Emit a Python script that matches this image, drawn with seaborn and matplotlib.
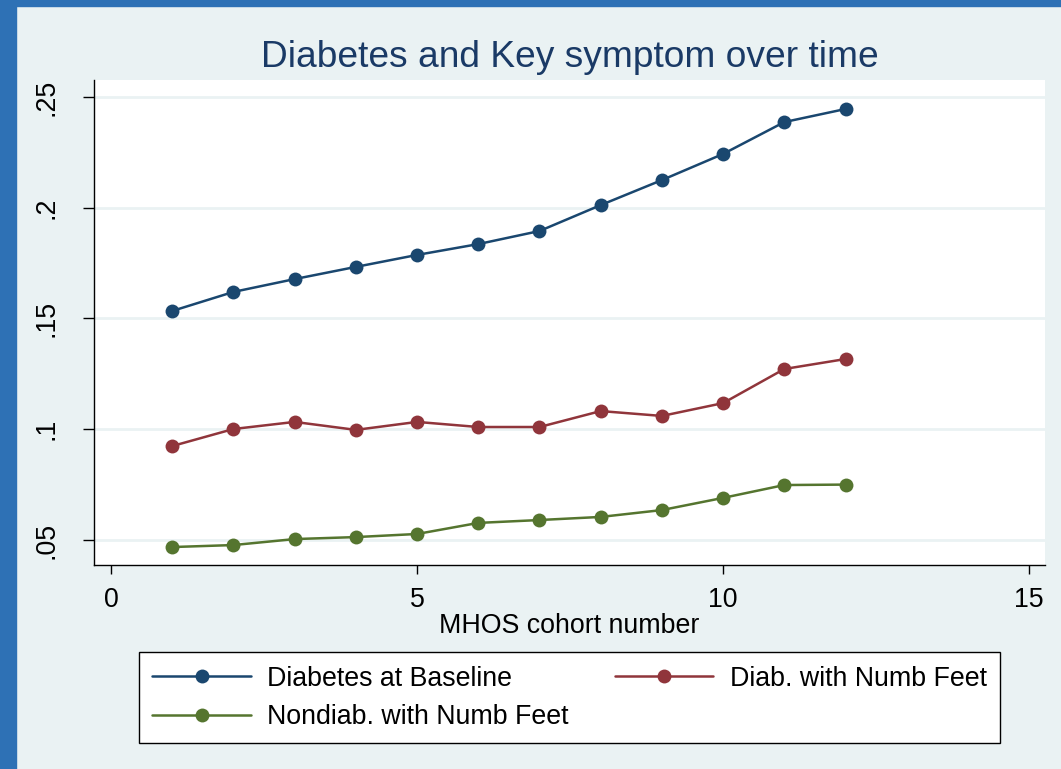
import numpy as np
import pandas as pd
import matplotlib
matplotlib.use("Agg")
import matplotlib.pyplot as plt
import seaborn as sns

# valeurs
cohort = [1, 2, 3, 4, 5, 6, 7, 8, 9, 10, 11, 12]
diab_baseline = [0.1534, 0.1620, 0.1678, 0.1733, 0.1787, 0.1836, 0.1895,
                 0.2012, 0.2125, 0.2243, 0.2387, 0.2446]
diab_numb = [0.0924, 0.1001, 0.1033, 0.0997, 0.1033, 0.1010, 0.1010,
             0.1082, 0.1060, 0.1118, 0.1272, 0.1317]
nondiab_numb = [0.0468, 0.0477, 0.0504, 0.0513, 0.0527, 0.0577, 0.0590,
                0.0604, 0.0635, 0.0690, 0.0748, 0.0750]
series_names = ["Diabetes at Baseline", "Diab. with Numb Feet", "Nondiab. with Numb Feet"]
colors = ["#1a476f", "#90353b", "#55752f"]
yticks = [0.05, 0.10, 0.15, 0.20, 0.25]
ytick_labels = [".05", ".1", ".15", ".2", ".25"]
xticks = [0, 5, 10, 15]

df = pd.DataFrame({
    "cohort": cohort * 3,
    "value": diab_baseline + diab_numb + nondiab_numb,
    "series": np.repeat(series_names, len(cohort)),
})

sns.set_style("white")
plt.rcParams["font.family"] = ["Liberation Sans", "DejaVu Sans"]
plt.rcParams["text.color"] = "black"
plt.rcParams["axes.labelcolor"] = "black"
plt.rcParams["xtick.color"] = "black"
plt.rcParams["ytick.color"] = "black"

bg = "#eaf2f3"
fs = 19.3
fig = plt.figure(figsize=(10.61, 7.69), dpi=100, facecolor=bg)
ax = fig.add_axes([0.0886, 0.2653, 0.8964, 0.6307])
ax.set_facecolor("white")

sns.lineplot(data=df, x="cohort", y="value", hue="series", hue_order=series_names,
             palette=colors, marker="o", markersize=10, markeredgewidth=0,
             linewidth=1.8, ax=ax, legend=False, zorder=3)

ax.set_xlim(-0.278, 15.26)
ax.set_ylim(0.0387, 0.2577)
ax.set_xticks(xticks)
ax.set_xticklabels([str(t) for t in xticks], fontsize=fs)
ax.set_yticks(yticks)
ax.set_yticklabels(ytick_labels, fontsize=fs, rotation=90, va="center")
ax.tick_params(axis="y", left=True, direction="out", length=8, width=1,
               colors="black", pad=17)
ax.tick_params(axis="x", bottom=True, direction="out", length=6.5, width=1,
               colors="black", pad=9)
for t in yticks:
    ax.axhline(t, color=bg, linewidth=2, zorder=1)
for s in ["top", "right"]:
    ax.spines[s].set_visible(False)
for s in ["left", "bottom"]:
    ax.spines[s].set_color("black")
    ax.spines[s].set_linewidth(1)

ax.set_xlabel("MHOS cohort number", fontsize=fs, labelpad=0, color="black")
ax.set_ylabel("")
ax.set_title("Diabetes and Key symptom over time", fontsize=26.7, color="#1a3a66", pad=9)

# bande bleue à gauche et en haut
fig.patches.append(plt.Rectangle((0, 0), 16 / 1061, 1, transform=fig.transFigure,
                                 color="#2e71b5", zorder=0))
fig.patches.append(plt.Rectangle((0, 1 - 6 / 769), 1, 6 / 769, transform=fig.transFigure,
                                 color="#2e71b5", zorder=0))

handles = [plt.Line2D([], [], color=c, marker="o", markersize=10, linewidth=1.8,
                      markeredgewidth=0) for c in colors]
order = [0, 2, 1]
leg = fig.legend([handles[i] for i in order], [series_names[i] for i in order],
                 ncol=2, loc="center", bbox_to_anchor=(0.537, 0.0925),
                 fontsize=fs, frameon=True, fancybox=False, edgecolor="black",
                 framealpha=1, handlelength=3.66, handletextpad=0.63,
                 columnspacing=1.72, labelspacing=0.45, borderpad=0.5)
leg.get_frame().set_linewidth(1)
leg.get_frame().set_facecolor("white")

fig.savefig("out.png", dpi=100, facecolor=bg)
